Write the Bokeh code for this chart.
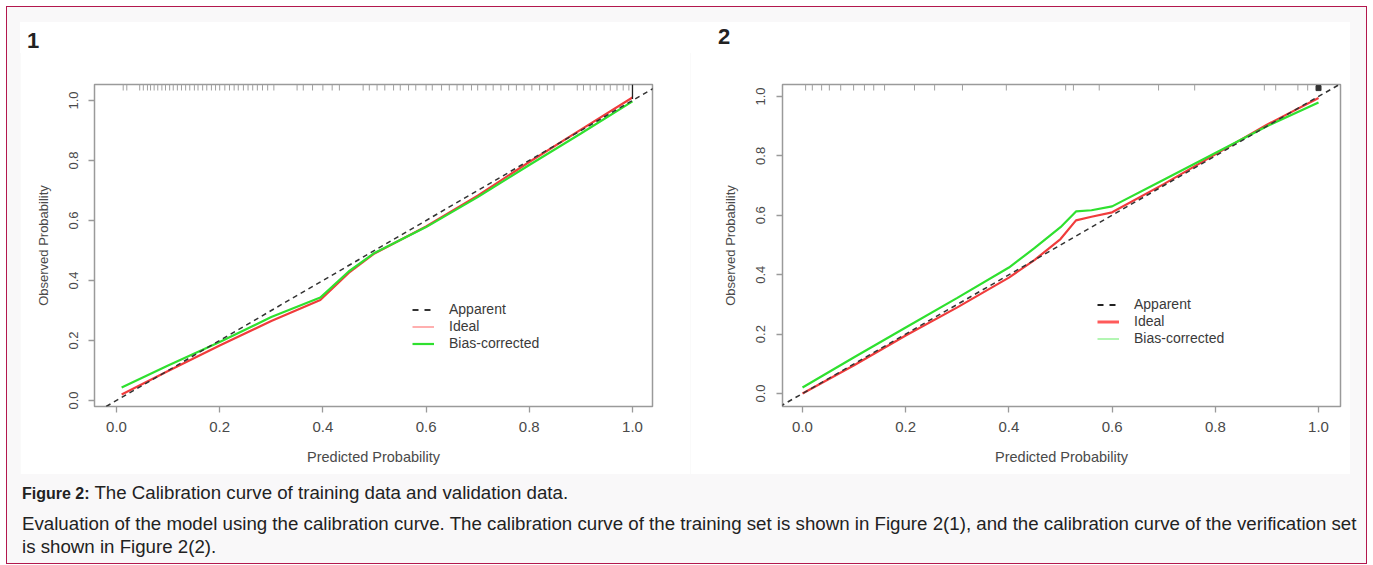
from bokeh.plotting import figure
from bokeh.models import Range1d, Slope, Legend, LegendItem, Div, FixedTicker
from bokeh.layouts import row, column
from bokeh.embed import file_html
from bokeh.resources import INLINE

# ---------------- data ----------------
tick_values = [0.0, 0.2, 0.4, 0.6, 0.8, 1.0]
tick_labels = ["0.0", "0.2", "0.4", "0.6", "0.8", "1.0"]

# panel 1 (training set)
p1_pred = [0.01, 0.1, 0.2, 0.3, 0.395, 0.45, 0.5, 0.55, 0.6, 0.7, 0.8, 0.9, 1.0]
p1_ideal = [0.02, 0.098, 0.183, 0.265, 0.335, 0.425, 0.49, 0.535, 0.58, 0.683, 0.795, 0.903, 1.01]
p1_bias = [0.043, 0.117, 0.195, 0.278, 0.343, 0.43, 0.492, 0.535, 0.578, 0.678, 0.785, 0.89, 0.997]
p1_rug = [0.013, 0.02, 0.045, 0.052, 0.06, 0.066, 0.073, 0.08, 0.088, 0.095, 0.103, 0.11,
          0.118, 0.126, 0.134, 0.142, 0.151, 0.158, 0.167, 0.175, 0.184, 0.192, 0.2, 0.21,
          0.219, 0.228, 0.236, 0.246, 0.255, 0.264, 0.273, 0.283, 0.293, 0.305, 0.35, 0.362,
          0.38, 0.4, 0.418, 0.432, 0.478, 0.49, 0.505, 0.52, 0.537, 0.55, 0.566, 0.58, 0.6,
          0.612, 0.63, 0.645, 0.66, 0.672, 0.688, 0.7, 0.716, 0.73, 0.745, 0.76, 0.775, 0.79,
          0.805, 0.82, 0.835, 0.848, 0.893, 0.905, 0.918, 0.93, 0.945, 0.957, 0.97, 0.982, 0.993]
p1_rug_dense = [1.0]

# panel 2 (validation set)
p2_pred = [0.0, 0.1, 0.2, 0.3, 0.4, 0.45, 0.5, 0.53, 0.56, 0.6, 0.7, 0.8, 0.9, 1.0]
p2_ideal = [0.0, 0.095, 0.195, 0.29, 0.39, 0.45, 0.52, 0.583, 0.595, 0.61, 0.705, 0.805, 0.905, 0.995]
p2_bias = [0.02, 0.122, 0.222, 0.322, 0.424, 0.49, 0.56, 0.613, 0.617, 0.63, 0.72, 0.81, 0.9, 0.98]
p2_rug = [0.006, 0.019, 0.037, 0.052, 0.074, 0.099, 0.12, 0.138, 0.159, 0.217, 0.256, 0.31,
          0.395, 0.51, 0.525, 0.575, 0.69, 0.76, 0.895, 0.917, 0.96, 0.979]
p2_rug_dense = [1.0]

legend_labels = ["Apparent", "Ideal", "Bias-corrected"]
panel_numbers = ["1", "2"]
NAN = [float("nan")]

FONT = "Liberation Sans"
TXT = "#4a4a4a"
GRID = "#9a9a9a"
RED = "#f03c3c"
GREEN = "#2fe02f"


def make_panel(width, frame_l, frame_r, frame_t, frame_b, xr, yr, y_std, y_title_std,
               pred, ideal, bias, rug, dense, dense_kind, legend_loc, legend_styles):
    p = figure(width=width, height=422, x_range=Range1d(*xr), y_range=Range1d(*yr),
               output_backend="svg", toolbar_location=None,
               min_border_left=frame_l, min_border_right=frame_r,
               min_border_top=frame_t, min_border_bottom=frame_b)
    p.background_fill_color = "white"
    p.border_fill_color = "white"
    p.outline_line_color = GRID
    p.outline_line_width = 1.5
    p.xgrid.visible = False
    p.ygrid.visible = False
    for ax in (p.xaxis[0], p.yaxis[0]):
        ax.ticker = FixedTicker(ticks=tick_values)
        ax.major_label_overrides = dict(zip(tick_values, tick_labels))
        ax.axis_line_color = None
        ax.major_tick_line_color = GRID
        ax.major_tick_line_width = 1.3
        ax.major_tick_out = 6
        ax.major_tick_in = 0
        ax.minor_tick_line_color = None
        ax.major_label_text_font = FONT
        ax.major_label_text_color = TXT
        ax.axis_label_text_font = FONT
        ax.axis_label_text_font_style = "normal"
        ax.axis_label_text_color = TXT
    p.xaxis.major_label_text_font_size = "15px"
    p.xaxis.axis_label_text_font_size = "14.5px"
    p.yaxis.major_label_text_font_size = "13px"
    p.yaxis.axis_label_text_font_size = "13px"
    p.xaxis.axis_label = "Predicted Probability"
    p.yaxis.axis_label = "Observed Probability"
    p.xaxis.major_label_standoff = 9
    p.xaxis.axis_label_standoff = 14
    p.yaxis.major_label_orientation = "vertical"
    p.yaxis.major_label_standoff = y_std
    p.yaxis.axis_label_standoff = y_title_std

    # diagonal (apparent)
    p.add_layout(Slope(gradient=1, y_intercept=0, line_color="#333333",
                       line_width=1.5, line_dash="5 4"))
    # curves
    p.line(pred, ideal, line_color=RED, line_width=2.2)
    p.line(pred, bias, line_color=GREEN, line_width=2.2)

    # rug at top
    top = yr[1]
    rug_len = (yr[1] - yr[0]) * 6 / 322
    p.segment(x0=rug, x1=rug, y0=[top] * len(rug), y1=[top - rug_len] * len(rug),
              line_color="#a0a0a0", line_width=1)
    if dense_kind == "line":
        p.segment(x0=dense, x1=dense, y0=[top] * len(dense),
                  y1=[top - rug_len * 2.4] * len(dense), line_color="#222222", line_width=1.3)
    else:
        p.scatter(dense, [top - rug_len * 0.6] * len(dense), marker="square", size=5,
                  fill_color="#333333", line_color="#333333")

    # legend-only renderers
    (dw, dc), (iw, ic), (bw, bc) = legend_styles
    l_app = p.line(NAN, NAN, line_color=dc, line_width=dw, line_dash="6 6")
    l_ide = p.line(NAN, NAN, line_color=ic, line_width=iw)
    l_bia = p.line(NAN, NAN, line_color=bc, line_width=bw)
    legend = Legend(items=[LegendItem(label=legend_labels[0], renderers=[l_app]),
                           LegendItem(label=legend_labels[1], renderers=[l_ide]),
                           LegendItem(label=legend_labels[2], renderers=[l_bia])],
                    location=legend_loc, background_fill_alpha=0, border_line_color=None,
                    glyph_width=22, glyph_height=15, label_height=15, spacing=1,
                    padding=0, margin=0, label_standoff=15,
                    label_text_font=FONT, label_text_font_size="14px",
                    label_text_color="#3a3a3a")
    p.add_layout(legend)
    return p


def number_div(text, width, pad_left, pad_top):
    return Div(text=(f'<div style="font-family: \'Liberation Sans\', Arial, sans-serif; '
                     f'font-size:22px; font-weight:bold; color:#222; line-height:22px; '
                     f'padding-top:{pad_top}px; padding-left:{pad_left}px;">{text}</div>'),
               width=width, height=31, margin=0,
               styles={"background-color": "white"})


p1 = make_panel(670, 74, 38, 32, 68, (-0.0426, 1.0388), (-0.02, 1.0533), 10, 16,
                p1_pred, p1_ideal, p1_bias, p1_rug, p1_rug_dense, "line",
                (318, 55), ((2, "#333333"), (1.2, "#ff7a7a"), (2.2, GREEN)))
p2 = make_panel(660, 92, 10, 32, 68, (-0.0388, 1.0426), (-0.0438, 1.0404), 11, 16,
                p2_pred, p2_ideal, p2_bias, p2_rug, p2_rug_dense, "square",
                (315, 60), ((2, "#222222"), (3, "#ff5a5a"), (1.2, "#80f080")))

numbers = row(number_div(panel_numbers[0], 670, 7, 8), number_div(panel_numbers[1], 660, 28, 4),
              spacing=0, margin=(15, 0, 0, 13))

caption = Div(
    text=(
        '<div style="font-family: \'Liberation Sans\', Arial, sans-serif; font-size:18.7px; '
        'color:#222; white-space:nowrap;">'
        '<div style="line-height:20px; margin-bottom:8px;"><b style="font-size:16px;">Figure 2:</b> '
        'The Calibration curve of training data and validation data.</div>'
        '<div style="line-height:23px;">Evaluation of the model using the calibration curve. '
        'The calibration curve of the training set is shown in Figure 2(1), and the calibration '
        'curve of the verification set<br>is shown in Figure 2(2).</div></div>'
    ),
    width=1340, height=80, margin=(9, 0, 0, 15))

panels = row(p1, p2, margin=(-1, 0, 0, 13), spacing=0)
root = column(numbers, panels, caption, width=1361, height=558, margin=(6, 0, 0, 6),
              spacing=0,
              styles={"border": "1px solid #b3174d", "background-color": "#f9f8f9",
                      "box-sizing": "border-box"})

open("out.html", "w").write(file_html(root, INLINE))
